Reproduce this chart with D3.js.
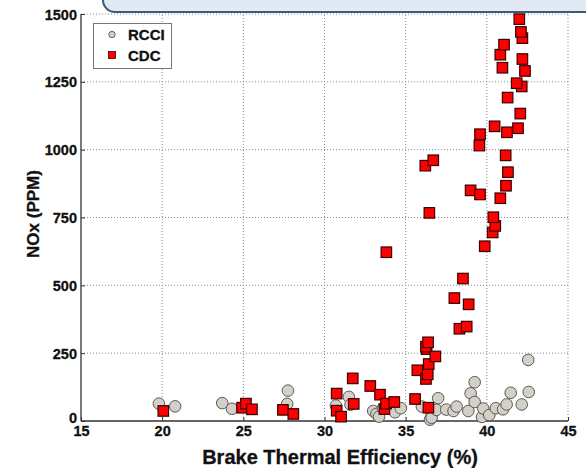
<!DOCTYPE html>
<html>
<head>
<meta charset="utf-8">
<script src="https://cdn.jsdelivr.net/npm/d3@7/dist/d3.min.js"></script>
<style>
  html, body { margin: 0; padding: 0; background: #fff; }
  svg { display: block; font-family: "Liberation Sans", Arial, sans-serif; }
</style>
</head>
<body>
<script>
// ---- data ----
const xTicks = [15, 20, 25, 30, 35, 40, 45];
const yTicks = [0, 250, 500, 750, 1000, 1250, 1500];
const seriesNames = ["RCCI", "CDC"];

const rcciBTE = [19.8, 20.8, 23.7, 24.3, 27.75, 27.7, 30.7, 31.5, 31.6, 33.0, 33.2, 33.36, 33.6, 34.34, 34.7,
  36.0, 36.5, 36.6, 36.6, 37.0, 36.9, 37.5, 37.95, 38.14, 38.86, 39.0, 39.25, 39.25, 39.7, 39.78,
  40.15, 40.55, 41.0, 41.22, 41.47, 42.15, 42.58, 42.55];
const rcciNOx = [64, 54, 66, 45, 112, 63, 57, 89, 60, 37, 26, 16, 47, 32, 47,
  53, 5, 22, 12, 84, 41, 42, 37, 53, 37, 102, 143, 70, 15, 46,
  22, 47, 43, 61, 104, 61, 107, 225];

const cdcBTE = [20.07, 24.92, 25.16, 25.53, 27.44, 28.08, 30.75, 30.75, 31.02, 31.74, 31.8, 32.82, 33.42, 33.69,
  33.79, 33.81, 34.3, 35.58, 35.72, 36.25, 36.36, 36.4, 36.42, 36.29, 36.25, 36.38, 36.83, 36.46, 36.21, 36.7,
  38.31, 38.76, 38.0, 38.88, 38.53, 39.0, 39.58, 39.87, 40.36, 40.52, 40.4, 40.83, 41.18, 41.3, 41.16,
  39.54, 39.58, 41.24, 41.92, 40.48, 42.06, 41.28, 42.15, 41.84, 42.35, 40.96, 42.19, 40.83, 41.06, 42.19, 42.1, 42.0];
const cdcNOx = [37, 49, 64, 43, 41, 26, 101, 38, 16, 157, 63, 129, 97, 44,
  64, 622, 70, 81, 187, 155, 172, 49, 210, 265, 274, 290, 238, 767, 941, 961,
  340, 348, 453, 430, 525, 850, 835, 644, 695, 719, 751, 821, 867, 917, 979,
  1015, 1057, 1064, 1079, 1086, 1133, 1192, 1233, 1245, 1290, 1302, 1334, 1350, 1387, 1411, 1434, 1481];

// ---- layout ----
const W = 586, H = 468;
const pL = 81, pR = 568, pT = 14, pB = 421;

const svg = d3.select("body").append("svg").attr("width", W).attr("height", H);

const x = d3.scaleLinear().domain([15, 45]).range([pL, pR]);
const y = d3.scaleLinear().domain([0, 1500]).range([pB, pT]);

// grid
const grid = svg.append("g");
grid.selectAll("line.vx").data(xTicks.slice(1)).join("line")
  .attr("x1", d => x(d)).attr("x2", d => x(d)).attr("y1", pB).attr("y2", pT)
  .attr("stroke", "#8a8a8a").attr("stroke-width", 1).attr("stroke-dasharray", "1,2");
grid.selectAll("line.hy").data(yTicks.slice(1)).join("line")
  .attr("y1", d => y(d)).attr("y2", d => y(d)).attr("x1", pL).attr("x2", pR)
  .attr("stroke", "#8a8a8a").attr("stroke-width", 1).attr("stroke-dasharray", "1,2");

// axes
const fmt = d3.format("d");
const xAxis = d3.axisBottom(x).tickValues(xTicks).tickFormat(fmt).tickSize(-4).tickPadding(5);
const yAxis = d3.axisLeft(y).tickValues(yTicks).tickFormat(fmt).tickSize(-4).tickPadding(4);

const gx = svg.append("g").attr("transform", `translate(0,${pB})`).call(xAxis);
const gy = svg.append("g").attr("transform", `translate(${pL},0)`).call(yAxis);
[gx, gy].forEach(g => {
  g.select(".domain").attr("stroke", "#333").attr("stroke-width", 1.3);
  g.selectAll(".tick line").attr("stroke", "#333");
  g.selectAll(".tick text").attr("fill", "#111").attr("font-size", 14.5).attr("font-weight", "bold")
    .attr("stroke", "#111").attr("stroke-width", 0.3)
    .attr("font-family", "'Liberation Sans', Arial, sans-serif");
});
gy.select(".domain").attr("d", `M0,${pB}V${pT}`);
gx.select(".domain").attr("d", `M${pL},0H${pR}`);
gy.selectAll(".tick text").attr("dy", "0.35em");
gy.selectAll(".tick").filter(d => d === 0).select("text").attr("dy", "0.1em");

// points
const rcci = rcciBTE.map((v, i) => [v, rcciNOx[i]]);
const cdc = cdcBTE.map((v, i) => [v, cdcNOx[i]]);

svg.append("g").selectAll("circle").data(rcci).join("circle")
  .attr("cx", d => x(d[0])).attr("cy", d => y(d[1])).attr("r", 5.8)
  .attr("fill", "#d4d0c8").attr("stroke", "#4a4a4a").attr("stroke-width", 0.9);

const s = 10.5;
svg.append("g").selectAll("rect").data(cdc).join("rect")
  .attr("x", d => x(d[0]) - s / 2).attr("y", d => y(d[1]) - s / 2)
  .attr("width", s).attr("height", s)
  .attr("fill", "#ff0000").attr("stroke", "#3a0000").attr("stroke-width", 1.2);

// axis titles
svg.append("text").attr("x", 340).attr("y", 464).attr("text-anchor", "middle")
  .attr("font-size", 20).attr("font-weight", "bold").attr("fill", "#111")
  .attr("stroke", "#111").attr("stroke-width", 0.3)
  .text("Brake Thermal Efficiency (%)");
svg.append("text").attr("transform", "translate(39,214) rotate(-90)").attr("text-anchor", "middle")
  .attr("font-size", 17).attr("font-weight", "bold").attr("fill", "#111")
  .attr("stroke", "#111").attr("stroke-width", 0.3)
  .text("NOx (PPM)");

// legend
const lg = svg.append("g");
lg.append("rect").attr("x", 93.5).attr("y", 23.5).attr("width", 78).attr("height", 45)
  .attr("fill", "#fff").attr("stroke", "#777").attr("stroke-width", 1);
lg.append("circle").attr("cx", 112).attr("cy", 34.5).attr("r", 3.2)
  .attr("fill", "#d4d0c8").attr("stroke", "#4a4a4a").attr("stroke-width", 0.8);
lg.append("rect").attr("x", 108.5).attr("y", 51.5).attr("width", 7).attr("height", 7)
  .attr("fill", "#ff0000").attr("stroke", "#3a0000").attr("stroke-width", 0.8);
lg.selectAll("text").data(seriesNames).join("text")
  .attr("x", 128).attr("y", (d, i) => 40 + i * 21)
  .attr("font-size", 15).attr("font-weight", "bold").attr("fill", "#111")
  .attr("stroke", "#111").attr("stroke-width", 0.3)
  .text(d => d);

// callout box at top (cut off)
svg.append("rect").attr("x", 103).attr("y", -40).attr("width", 520).attr("height", 52)
  .attr("rx", 12).attr("ry", 12)
  .attr("fill", "#e2e9f3").attr("stroke", "#3b5a80").attr("stroke-width", 2);
</script>
</body>
</html>
